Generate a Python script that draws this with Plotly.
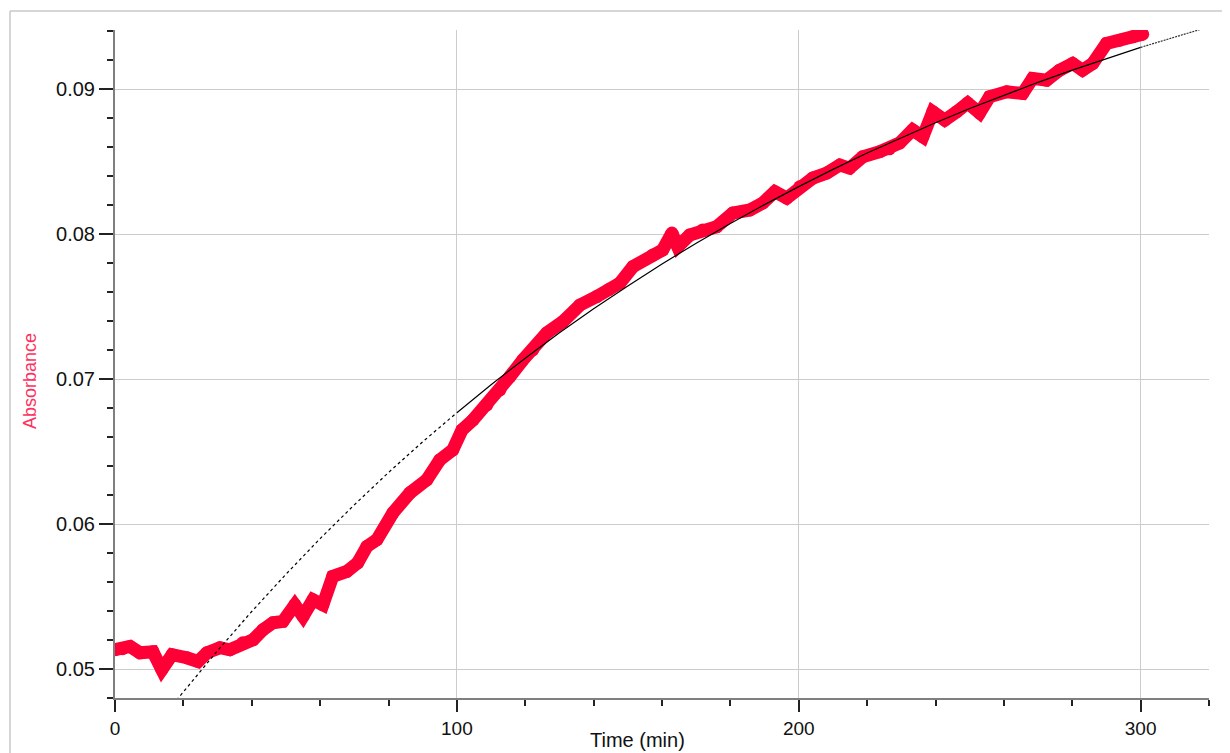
import plotly.graph_objects as go

time_min = [0, 2.2, 4.4, 7.3, 11.1, 13.7, 16.7, 21.0, 24.3, 26.9, 30.7, 33.6, 37.4, 40.4,
            43.3, 46.2, 49.1, 52.6, 55.0, 57.9, 60.8, 63.7, 67.8, 71.0, 73.7, 76.6,
            81.3, 86.3, 91.2, 95.0, 98.8, 101.5, 104.7, 108.8, 112.6, 115.5, 119.3,
            122.2, 126.3, 131.0, 136.0, 140.9, 144.5, 147.7, 151.5, 157.3, 160.2, 162.9,
            164.6, 168.1, 171.9, 176.0, 180.7, 185.7, 189.5, 193.0, 196.5, 200.3,
            204.1, 208.2, 212.0, 214.9, 218.7, 223.7, 226.5, 229.5, 233.3, 236.3,
            239.2, 242.7, 246.2, 249.4, 252.9, 255.8, 260.8, 265.5, 268.4, 272.5,
            276.3, 280.1, 283.0, 286.0, 290.0, 293.9, 297.7, 300.6]
absorbance = [0.05133, 0.05140, 0.05156, 0.05112, 0.05119, 0.04995, 0.05099, 0.05078,
              0.05052, 0.05112, 0.05147, 0.05133, 0.05181, 0.05202, 0.05271, 0.05319,
              0.05328, 0.05443, 0.05363, 0.05478, 0.05443, 0.05639, 0.05673, 0.05733,
              0.05846, 0.05892, 0.06078, 0.06216, 0.06306, 0.06443, 0.06512, 0.06650,
              0.06719, 0.06823, 0.06926, 0.07018, 0.07133, 0.07202, 0.07319, 0.07397,
              0.07512, 0.07570, 0.07620, 0.07664, 0.07777, 0.07857, 0.07892, 0.08009,
              0.07914, 0.07995, 0.08030, 0.08052, 0.08147, 0.08168, 0.08216, 0.08294,
              0.08250, 0.08328, 0.08388, 0.08423, 0.08478, 0.08457, 0.08535, 0.08570,
              0.08590, 0.08630, 0.08720, 0.08673, 0.08846, 0.08788, 0.08846, 0.08906,
              0.08837, 0.08949, 0.08983, 0.08972, 0.09076, 0.09064, 0.09133, 0.09179,
              0.09133, 0.09179, 0.09317, 0.09340, 0.09363, 0.09381]

# Curve fit line
fit_time = [18, 20, 30, 40, 50, 60, 70, 80, 90, 100, 110, 120, 130, 140, 150, 160, 170,
            180, 190, 200, 210, 220, 230, 240, 250, 260, 270, 280, 290, 300, 310, 318]
fit_abs = [0.04785, 0.04843, 0.05127, 0.05397, 0.05654, 0.05900, 0.06133, 0.06356,
           0.06568, 0.06769, 0.06962, 0.07145, 0.07320, 0.07486, 0.07644, 0.07795,
           0.07939, 0.08075, 0.08205, 0.08329, 0.08448, 0.08561, 0.08668, 0.08770,
           0.08868, 0.08961, 0.09049, 0.09133, 0.09213, 0.09290, 0.09362, 0.09418]

x_title = "Time (min)"
y_title = "Absorbance"

FONT = "Liberation Sans, Arial, sans-serif"
RED = "#ff0036"

# page body has an 8px margin; figure placed at (8, 8)
OFF = 8
PL, PT, PR, PB = 115, 30, 1209, 698     # plot area in window pixels
W, H = 1230 - OFF, 753 - OFF
PW, PH = PR - PL, PB - PT


def px(xw):
    return (xw - PL) / PW


def py(yw):
    return (PB - yw) / PH


fig = go.Figure()

fig.add_trace(go.Scatter(
    x=time_min, y=absorbance, mode="lines+markers",
    line=dict(color=RED, width=13),
    marker=dict(color=RED, size=13, line=dict(width=0)),
    showlegend=False, hoverinfo="skip"))

pre = [(t, a) for t, a in zip(fit_time, fit_abs) if t <= 100]
mid = [(t, a) for t, a in zip(fit_time, fit_abs) if 100 <= t <= 300]
post = [(t, a) for t, a in zip(fit_time, fit_abs) if t >= 300]

fig.add_trace(go.Scatter(x=[p[0] for p in pre], y=[p[1] for p in pre], mode="lines",
                         line=dict(color="#000000", width=1.2, dash="dot"),
                         showlegend=False, hoverinfo="skip"))
fig.add_trace(go.Scatter(x=[p[0] for p in mid], y=[p[1] for p in mid], mode="lines",
                         line=dict(color="#000000", width=1.2),
                         showlegend=False, hoverinfo="skip"))
fig.add_trace(go.Scatter(x=[p[0] for p in post], y=[p[1] for p in post], mode="lines",
                         line=dict(color="#333333", width=1.2, dash="2px,1px"),
                         showlegend=False, hoverinfo="skip"))

fig.update_layout(
    width=W, height=H,
    margin=dict(l=PL - OFF, r=1230 - PR, t=PT - OFF, b=753 - PB),
    paper_bgcolor="white", plot_bgcolor="white",
    font=dict(family=FONT, size=19, color="#111111"),
    xaxis=dict(range=[0, 320], tickmode="linear", tick0=0, dtick=100,
               showgrid=True, gridcolor="#cccccc", gridwidth=1,
               showline=True, linecolor="#7f7f7f", linewidth=2,
               ticks="outside", ticklen=12, tickwidth=2, tickcolor="#222222",
               zeroline=False, automargin=False,
               minor=dict(dtick=20, tick0=0, ticks="outside", ticklen=6,
                          tickwidth=1.5, tickcolor="#222222", showgrid=False),
               tickfont=dict(size=19, family=FONT, color="#111111")),
    yaxis=dict(range=[0.048, 0.0941], tickmode="linear", tick0=0.05, dtick=0.01,
               tickformat=".2f",
               showgrid=True, gridcolor="#cccccc", gridwidth=1,
               showline=True, linecolor="#7f7f7f", linewidth=2,
               ticks="outside", ticklen=14, tickwidth=2, tickcolor="#222222",
               zeroline=False, automargin=False,
               minor=dict(dtick=0.002, tick0=0.05, ticks="outside", ticklen=6,
                          tickwidth=1.5, tickcolor="#222222", showgrid=False),
               tickfont=dict(size=20, family=FONT, color="#111111")),
    annotations=[
        dict(text=x_title, xref="paper", yref="paper",
             x=px(637), y=py(740),
             xanchor="center", yanchor="middle", showarrow=False,
             font=dict(family=FONT, size=20, color="#111111")),
        dict(text=y_title, xref="paper", yref="paper",
             x=px(30), y=py(381), textangle=-90,
             xanchor="center", yanchor="middle", showarrow=False,
             font=dict(family=FONT, size=18, color="#ff3060")),
    ],
    shapes=[
        dict(type="line", xref="paper", yref="paper",
             x0=px(10), x1=px(1240), y0=py(11), y1=py(11),
             line=dict(color="#c8c8c8", width=1.5), layer="below"),
        dict(type="line", xref="paper", yref="paper",
             x0=px(10), x1=px(10), y0=py(11), y1=py(760),
             line=dict(color="#c8c8c8", width=1.5), layer="below"),
    ],
)

fig.write_html("out.html")
